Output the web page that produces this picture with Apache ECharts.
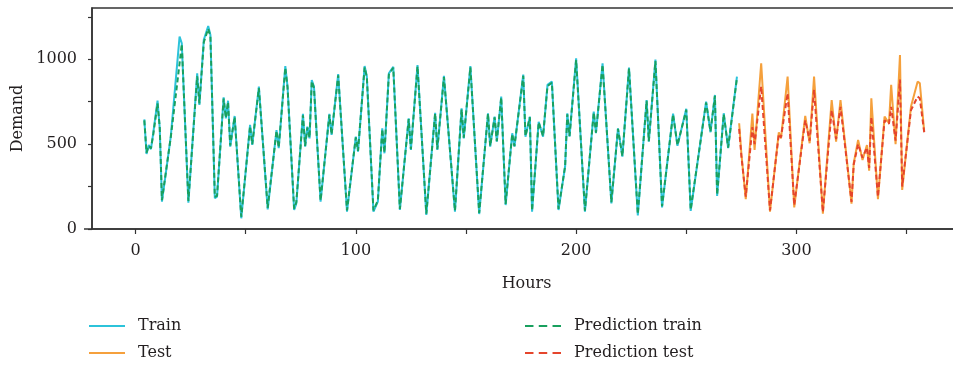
<!DOCTYPE html>
<html>
<head>
<meta charset="utf-8">
<script src="https://cdn.jsdelivr.net/npm/echarts@6/dist/echarts.min.js"></script>
<style>html,body{margin:0;padding:0;background:#fff}#c{width:953px;height:366px}</style>
</head>
<body>
<div id="c"></div>
<script>
// ---- data ----
const trainHours = [4,5,6,7,8,10,11,12,16,20,21,24,28,29,31,33,34,36,37,40,41,42,43,45,48,52,53,56,60,64,65,68,69,72,73,76,77,78,79,80,81,84,88,89,92,96,100,101,104,105,108,110,112,113,115,117,120,124,125,128,132,136,137,140,145,148,149,152,156,160,161,163,164,166,168,171,172,176,177,179,180,183,185,187,189,192,195,196,197,200,204,208,209,212,216,219,221,224,228,232,233,236,239,244,246,250,252,259,261,263,264,267,269,273];
const trainDemand = [646,442,495,470,560,756,593,161,544,1133,1094,155,917,731,1114,1196,1143,181,190,776,652,756,485,666,63,613,495,839,116,583,476,960,839,112,151,678,485,603,534,878,839,161,678,554,913,102,544,456,960,898,102,161,593,446,917,956,112,652,466,966,83,685,466,902,102,711,534,960,88,682,485,662,514,780,141,564,485,910,544,662,102,632,544,849,868,112,367,682,544,1006,102,691,564,976,151,593,426,951,80,760,514,998,127,680,490,708,107,750,570,790,195,682,476,898];
const predTrainDemand = [640,450,490,475,552,740,600,170,540,975,1090,165,900,740,1100,1180,1135,190,195,768,655,748,492,660,72,605,500,830,125,578,480,950,836,120,158,670,490,598,538,870,832,168,672,558,905,110,540,460,952,895,110,168,588,450,910,950,118,648,470,958,90,680,470,895,108,705,538,952,95,678,490,658,518,775,148,560,488,902,548,658,108,628,548,842,862,118,370,676,548,995,108,686,568,968,158,590,430,945,88,755,518,990,134,675,494,702,114,745,574,785,202,676,480,890];
const testHours = [274,275,277,280,281,284,288,292,293,296,299,304,306,308,312,316,318,320,325,326,328,330,332,333,334,337,340,342,343,345,347,348,352,355,356,358];
const testDemand = [623,446,176,680,466,976,102,570,534,898,127,667,505,898,90,760,514,760,149,387,524,407,495,343,770,176,662,623,849,500,1025,230,721,868,860,574];
const predTestDemand = [590,430,190,600,500,840,110,560,540,800,140,640,520,820,100,700,530,720,160,380,500,420,480,360,660,190,640,620,720,520,880,250,700,780,770,570];
const xTickValues = [0,50,100,150,200,250,300,350];
const xLabelValues = [0,100,200,300];
const yTickValues = [0,250,500,750,1000,1250];
const yLabelValues = [0,500,1000];

const pairs = (xs, ys) => xs.map((x, i) => [x, ys[i]]);
const FONT = 'DejaVu Serif';
const TXT = '#231f20';
const C_TRAIN = '#2cc3da', C_PTRAIN = '#19a05e', C_TEST = '#f5a03c', C_PTEST = '#e5452c';
const SOLID = 'path://M0,0h36v2h-36z';
const DASHED = 'path://M0,0h8v2h-8z M13,0h8v2h-8z M26,0h8v2h-8z';

function legendAt(name, icon, left, top) {
  return {
    data: [{name: name, icon: icon}], orient: 'horizontal', left: left, top: top, padding: 0,
    itemWidth: 36, itemHeight: 14, selectedMode: false,
    textStyle: {fontFamily: FONT, fontSize: 16, color: TXT,
      rich: {p: {padding: [0, 0, 0, 8], fontFamily: FONT, fontSize: 16, color: TXT}}},
    formatter: '{p|{name}}'
  };
}

const chart = echarts.init(document.getElementById('c'), null, {renderer: 'canvas'});
chart.setOption({
  animation: false,
  backgroundColor: '#fff',
  grid: {left: 92, top: 8, right: -8, bottom: 137, outerBoundsMode: 'none', containLabel: false,
         show: true, borderColor: '#333', borderWidth: 1.5, backgroundColor: 'transparent'},
  xAxis: {
    type: 'value', min: -19.75, max: 374.7,
    name: 'Hours', nameLocation: 'middle', nameGap: 47,
    nameTextStyle: {fontFamily: FONT, fontSize: 16, color: TXT},
    axisLine: {show: true, onZero: false, lineStyle: {color: '#333', width: 1.5}},
    axisTick: {show: true, length: 5, customValues: xTickValues, lineStyle: {color: '#333', width: 1.2}},
    axisLabel: {customValues: xLabelValues, fontFamily: FONT, fontSize: 16, color: TXT, margin: 14, formatter: v => String(v)},
    splitLine: {show: false}
  },
  yAxis: {
    type: 'value', min: 0, max: 1302,
    name: 'Demand', nameLocation: 'middle', nameGap: 64, nameRotate: 90,
    nameTextStyle: {fontFamily: FONT, fontSize: 16, color: TXT},
    axisLine: {show: true, onZero: false, lineStyle: {color: '#333', width: 1.5}},
    axisTick: {show: true, length: 4, customValues: yTickValues, lineStyle: {color: '#333', width: 1.2}},
    axisLabel: {customValues: yLabelValues, fontFamily: FONT, fontSize: 16, color: TXT, margin: 15, formatter: v => String(v)},
    splitLine: {show: false}
  },
  legend: [
    legendAt('Train', SOLID, 89, 318),
    legendAt('Test', SOLID, 89, 345),
    legendAt('Prediction train', DASHED, 525, 318),
    legendAt('Prediction test', DASHED, 525, 345)
  ],
  series: [
    {name: 'Train', type: 'line', data: pairs(trainHours, trainDemand), symbol: 'none', z: 2,
     lineStyle: {color: C_TRAIN, width: 2}, itemStyle: {color: C_TRAIN}},
    {name: 'Prediction train', type: 'line', data: pairs(trainHours, predTrainDemand), symbol: 'none', z: 3,
     lineStyle: {color: C_PTRAIN, width: 2, type: [5, 3]}, itemStyle: {color: C_PTRAIN}},
    {name: 'Test', type: 'line', data: pairs(testHours, testDemand), symbol: 'none', z: 2,
     lineStyle: {color: C_TEST, width: 2}, itemStyle: {color: C_TEST}},
    {name: 'Prediction test', type: 'line', data: pairs(testHours, predTestDemand), symbol: 'none', z: 3,
     lineStyle: {color: C_PTEST, width: 2, type: [5, 3]}, itemStyle: {color: C_PTEST}}
  ],
  graphic: [
    {type: 'line', shape: {x1: 84, y1: 229, x2: 92, y2: 229}, style: {stroke: '#333', lineWidth: 1.5}}
  ]
});
</script>
</body>
</html>
